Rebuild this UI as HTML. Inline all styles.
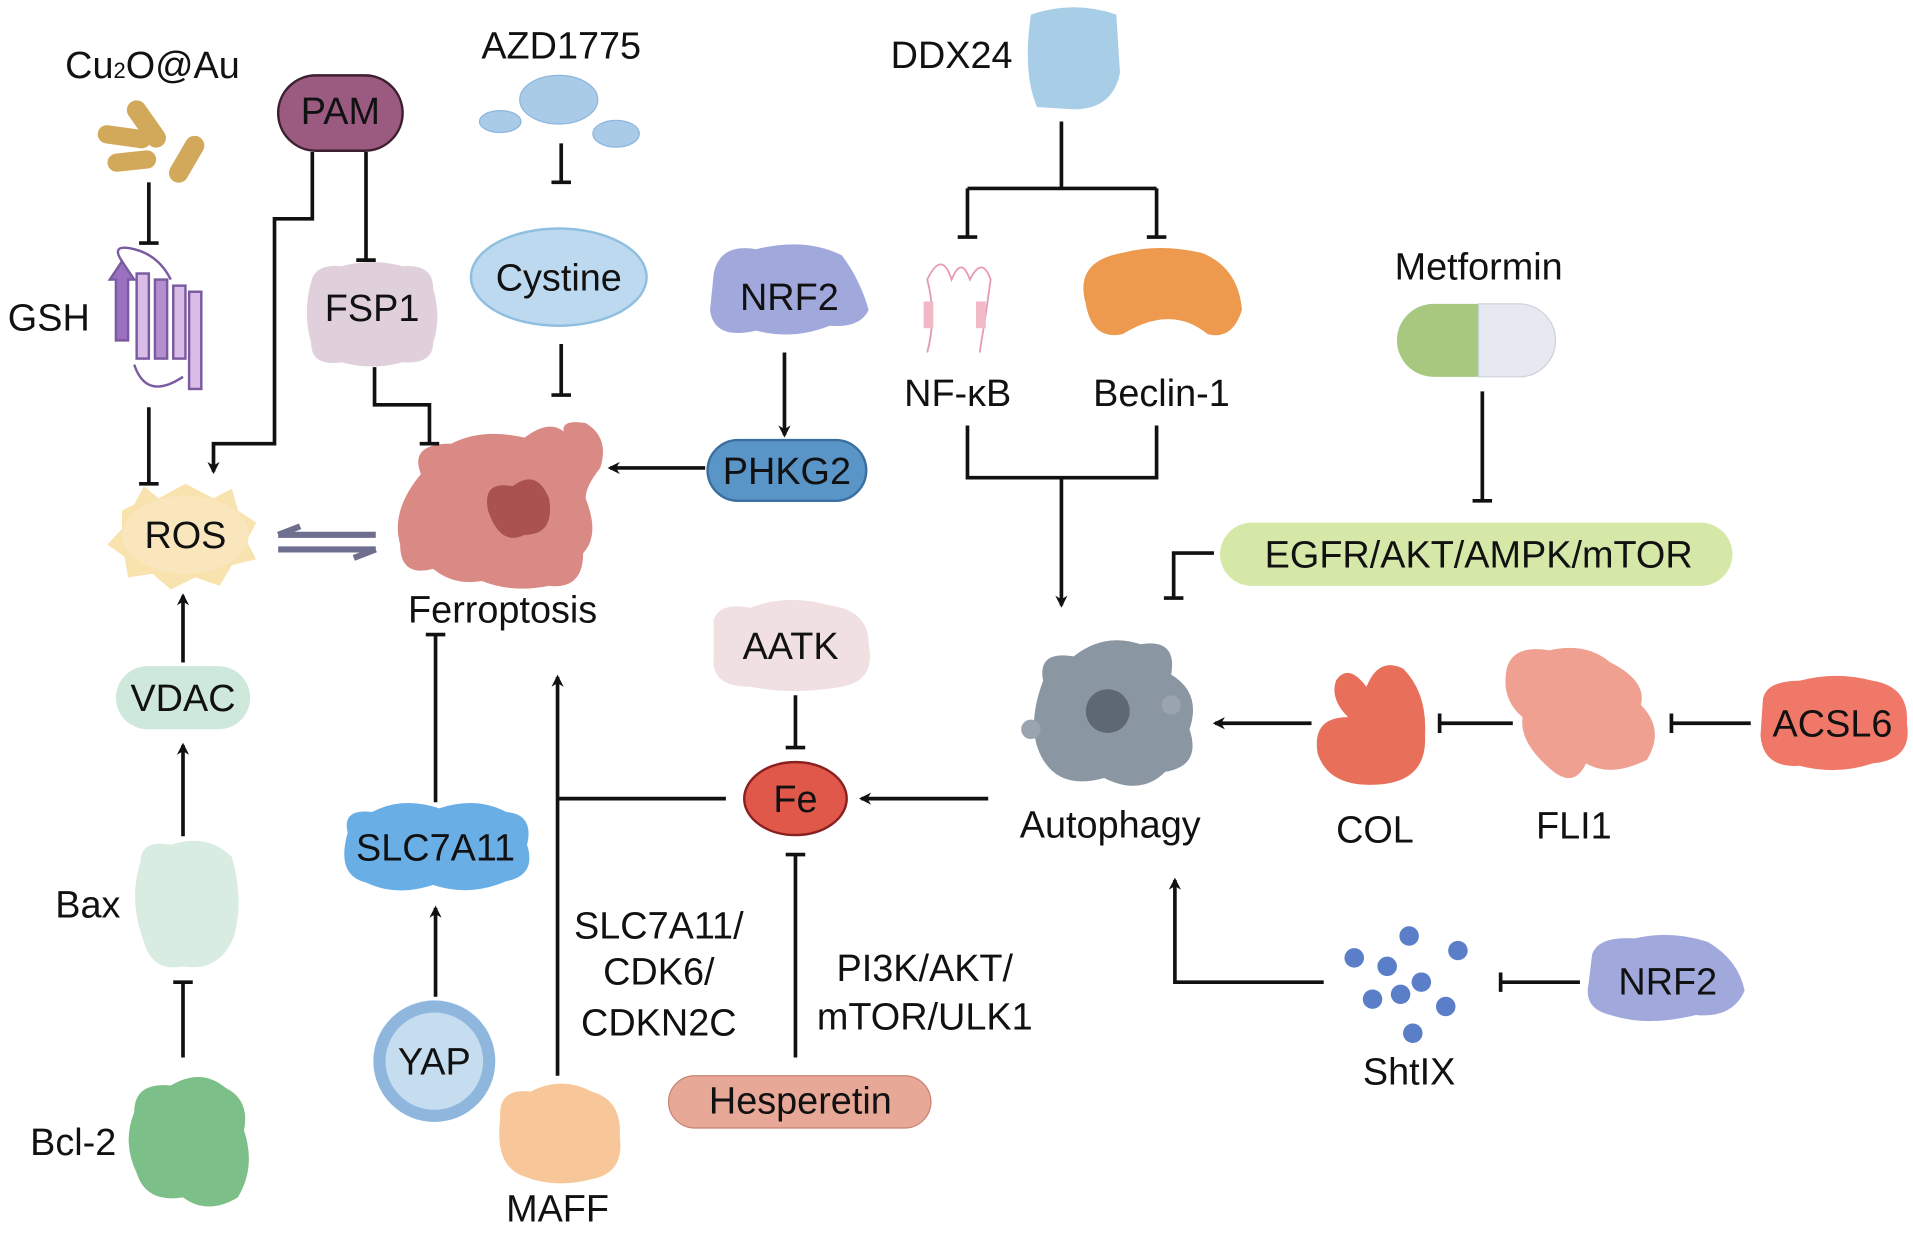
<!DOCTYPE html>
<html><head><meta charset="utf-8"><style>
html,body{margin:0;padding:0;background:#fff;overflow:hidden}
svg{display:block}
text{font-family:"Liberation Sans",sans-serif;font-size:31px;fill:#111;text-anchor:middle}
.l{stroke:#111;stroke-width:3;fill:none}
</style></head><body>
<svg width="1913" height="1235" viewBox="0 0 1568 1016" preserveAspectRatio="none" xmlns="http://www.w3.org/2000/svg">
<defs>
<marker id="a" markerWidth="10" markerHeight="10" refX="8" refY="5" orient="auto" markerUnits="userSpaceOnUse"><path d="M0,0 L10,5 L0,10 L3,5Z" fill="#111"/></marker>
</defs>
<rect width="1568" height="1016" fill="#fff"/>

<!-- Cu2O@Au -->
<text x="125" y="64">Cu<tspan font-size="18">2</tspan>O@Au</text>
<g fill="#d2a95a">
<rect x="112" y="80" width="16" height="44" rx="8" transform="rotate(-35 120 102)"/>
<rect x="80" y="105" width="44" height="15" rx="7.5" transform="rotate(8 102 112)"/>
<rect x="145" y="110" width="16" height="42" rx="8" transform="rotate(30 153 131)"/>
<rect x="88" y="125" width="40" height="15" rx="7.5" transform="rotate(-6 108 132)"/>
</g>
<!-- PAM -->
<rect x="228" y="62" width="102" height="62" rx="31" fill="#9b5a80" stroke="#3d2030" stroke-width="2"/>
<text x="279" y="102">PAM</text>
<!-- AZD1775 -->
<text x="460" y="48">AZD1775</text>
<g fill="#a9cbe8" stroke="#8cb6dc"><ellipse cx="458" cy="82" rx="32" ry="20"/><ellipse cx="410" cy="100" rx="17" ry="9"/><ellipse cx="505" cy="110" rx="19" ry="11"/></g>
<!-- DDX24 -->
<text x="780" y="56">DDX24</text>
<path d="M845,12 Q880,0 915,12 L918,60 Q912,90 880,90 L850,88 Q838,60 845,12Z" fill="#a8cde6"/>
<!-- GSH -->
<text x="40" y="272">GSH</text>
<g fill="#c6a3d6" stroke="#7a5aa0" stroke-width="2">
<path d="M90,230 L100,215 L110,230 L105,230 L105,280 L95,280 L95,230Z" fill="#9a70bf"/>
<rect x="112" y="225" width="10" height="70" fill="#d9bde6"/>
<rect x="127" y="230" width="10" height="65" fill="#b58ed0"/>
<rect x="142" y="235" width="10" height="60" fill="#d9bde6"/>
<rect x="155" y="240" width="10" height="80" fill="#d9bde6"/>
<path d="M100,215 Q90,200 110,205 Q130,210 140,230 M110,300 Q120,330 150,310" fill="none"/>
</g>
<!-- FSP1 -->
<path d="M255,232 Q258,217 280,219 Q305,212 330,219 Q355,217 355,237 Q362,262 355,282 Q355,300 330,298 Q305,305 280,298 Q255,302 255,282 Q248,257 255,232Z" fill="#e0d0dc"/>
<text x="305" y="264">FSP1</text>
<!-- Cystine -->
<ellipse cx="458" cy="228" rx="72" ry="40" fill="#bcd9ef" stroke="#8fbfe0" stroke-width="2"/>
<text x="458" y="239">Cystine</text>
<!-- NRF2 -->
<path d="M585,225 Q590,200 620,205 Q660,195 690,210 Q705,230 712,255 Q705,270 680,268 Q650,280 620,272 Q585,280 582,255Z" fill="#a0a8dc"/>
<text x="647" y="255">NRF2</text>
<!-- NF-kB receptor -->
<g stroke="#e79ab3" stroke-width="1.5" fill="none"><path d="M760,290 Q768,260 760,230 Q772,205 780,230 Q788,210 795,230 Q805,210 812,230 Q808,260 803,290"/></g>
<rect x="757" y="248" width="8" height="22" fill="#f1b8c8"/><rect x="800" y="248" width="8" height="22" fill="#f1b8c8"/>
<text x="785" y="334">NF-κB</text>
<!-- Beclin -->
<path d="M890,250 Q880,215 920,208 Q950,200 985,208 Q1015,220 1018,255 Q1010,280 990,275 Q960,250 920,275 Q895,280 890,250Z" fill="#ee9a4e"/>
<text x="952" y="334">Beclin-1</text>
<!-- Metformin -->
<text x="1212" y="230">Metformin</text>
<path d="M1175,250 L1212,250 L1212,310 L1175,310 A30,30 0 0 1 1175,250Z" fill="#a8c880"/>
<path d="M1212,250 L1245,250 A30,30 0 0 1 1245,310 L1212,310Z" fill="#e6eaf0" stroke="#cdd3dc"/>
<!-- DDX24 connectors -->
<path class="l" d="M870,100 V155 M793,155 H948 M793,155 V195 M948,155 V195 M785,195 H801 M940,195 H956"/>
<path class="l" d="M793,350 V393 H948 V350" />
<path class="l" d="M870,393 V498" marker-end="url(#a)"/>
<path class="l" d="M1215,322 V412 M1207,412 H1223"/>
<!-- EGFR -->
<rect x="1000" y="430" width="420" height="52" rx="26" fill="#d6e8a8"/>
<text x="1212" y="467">EGFR/AKT/AMPK/mTOR</text>
<path class="l" d="M995,455 H962 V492 M954,492 H970"/>
<!-- PHKG2 -->
<rect x="580" y="362" width="130" height="50" rx="25" fill="#5a95c8" stroke="#3a6fa0" stroke-width="2"/>
<text x="645" y="398">PHKG2</text>
<path class="l" d="M643,290 V358" marker-end="url(#a)"/>
<path class="l" d="M578,385 H500" marker-end="url(#a)"/>
<!-- Ferroptosis cell -->
<path d="M345,390 Q335,365 370,365 Q395,352 430,360 Q450,345 462,355 Q460,345 480,348 Q500,360 492,385 Q480,400 480,410 Q492,440 478,455 Q478,485 450,482 Q420,488 395,478 Q372,482 355,468 Q328,475 328,448 Q320,420 345,390Z" fill="#d98a84"/>
<path d="M400,420 Q395,395 420,400 Q440,385 450,410 Q455,440 430,440 Q410,450 400,420Z" fill="#a9524e"/>
<circle cx="343" cy="412" r="7" fill="#d98a84"/><circle cx="350" cy="382" r="5" fill="#d98a84"/>
<text x="412" y="512">Ferroptosis</text>
<!-- left column connectors -->
<path class="l" d="M300,125 V214 M292,214 H308"/>
<path class="l" d="M256,125 V180 H225 V365 H175 V388" marker-end="url(#a)"/>
<path class="l" d="M307,302 V333 H352 V365 M344,365 H360"/>
<path class="l" d="M460,118 V150 M452,150 H468 M460,283 V325 M452,325 H468"/>
<path class="l" d="M122,150 V200 M114,200 H130 M122,335 V398 M114,398 H130"/>
<!-- ROS -->
<path d="M100,420 L110,415 L118,400 L130,410 L152,398 L175,410 L190,402 L195,420 L210,430 L202,445 L210,460 L190,465 L180,482 L160,475 L140,485 L125,472 L105,475 L102,458 L88,448 L100,435Z" fill="#f8e2ae"/>
<ellipse cx="152" cy="440" rx="52" ry="32" fill="#f9e6bd"/>
<text x="152" y="451">ROS</text>
<path d="M228,440 H308 M228,440 L246,433 M308,452 H228 M308,452 L290,459" stroke="#6e6e8e" stroke-width="5" fill="none"/>
<!-- VDAC -->
<rect x="95" y="548" width="110" height="52" rx="26" fill="#cfe8dc"/>
<text x="150" y="585">VDAC</text>
<path class="l" d="M150,545 V490" marker-end="url(#a)"/>
<!-- Bax -->
<path d="M115,710 Q115,690 140,695 Q170,685 190,705 Q200,740 192,770 Q180,800 150,795 Q125,800 118,775 Q105,740 115,710Z" fill="#d9ece1"/>
<text x="72" y="755">Bax</text>
<path class="l" d="M150,688 V613" marker-end="url(#a)"/>
<!-- Bcl-2 -->
<path d="M110,915 Q110,890 140,893 Q165,878 185,895 Q205,905 200,930 Q210,960 195,985 Q170,1000 150,985 Q120,990 112,965 Q100,940 110,915Z" fill="#7cbf88"/>
<text x="60" y="950">Bcl-2</text>
<path class="l" d="M150,870 V808 M142,808 H158"/>
<!-- SLC7A11 -->
<path d="M285,685 Q280,665 305,668 Q330,655 360,665 Q390,655 415,668 Q438,670 432,695 Q440,720 415,725 Q385,738 355,728 Q325,738 300,726 Q275,720 285,685Z" fill="#6aaee6"/>
<text x="357" y="708">SLC7A11</text>
<path class="l" d="M357,660 V522 M349,522 H365"/>
<!-- YAP -->
<circle cx="356" cy="873" r="50" fill="#8fb7de"/><circle cx="356" cy="873" r="40" fill="#c6dcef"/>
<text x="356" y="884">YAP</text>
<path class="l" d="M357,820 V747" marker-end="url(#a)"/>
<!-- MAFF -->
<path d="M410,920 Q408,895 435,898 Q460,885 485,898 Q510,905 508,935 Q512,965 485,970 Q455,978 430,968 Q405,960 410,920Z" fill="#f7c79a"/>
<text x="457" y="1005">MAFF</text>
<path class="l" d="M457,885 V557" marker-end="url(#a)"/>
<path class="l" d="M457,657 H595"/>
<text x="540" y="772">SLC7A11/</text><text x="540" y="810">CDK6/</text><text x="540" y="852">CDKN2C</text>
<!-- AATK -->
<path d="M585,510 Q590,495 615,500 Q645,488 680,498 Q712,502 712,530 Q718,560 690,565 Q650,572 615,565 Q582,565 585,540Z" fill="#f0e0e2"/>
<text x="648" y="542">AATK</text>
<path class="l" d="M652,572 V615 M644,615 H660"/>
<!-- Fe -->
<ellipse cx="652" cy="657" rx="42" ry="30" fill="#e0584a" stroke="#8a2020" stroke-width="2"/>
<text x="652" y="668">Fe</text>
<path class="l" d="M810,657 H706" marker-end="url(#a)"/>
<!-- Hesperetin -->
<rect x="548" y="885" width="215" height="43" rx="21.5" fill="#e8a898" stroke="#c88070"/>
<text x="656" y="916">Hesperetin</text>
<path class="l" d="M652,870 V703 M644,703 H660"/>
<text x="758" y="807">PI3K/AKT/</text><text x="758" y="847">mTOR/ULK1</text>
<!-- Autophagy -->
<path d="M855,560 Q850,535 880,540 Q905,520 935,530 Q965,525 960,555 Q985,570 975,600 Q985,630 955,635 Q935,655 905,640 Q870,650 855,625 Q840,600 855,560Z" fill="#8a96a2"/>
<circle cx="908" cy="585" r="18" fill="#5e6874"/>
<circle cx="960" cy="580" r="8" fill="#9aa4ae"/><circle cx="845" cy="600" r="8" fill="#9aa4ae"/>
<text x="910" y="689">Autophagy</text>
<!-- COL -->
<path d="M1095,560 Q1105,545 1120,565 Q1130,540 1150,550 Q1170,570 1168,605 Q1170,640 1135,645 Q1090,650 1080,620 Q1075,590 1105,590 Q1090,575 1095,560Z" fill="#e8705a"/>
<text x="1127" y="693">COL</text>
<path class="l" d="M1075,595 H996" marker-end="url(#a)"/>
<!-- FLI1 -->
<path d="M1235,550 Q1240,530 1270,535 Q1300,528 1320,545 Q1350,560 1345,580 Q1365,600 1350,625 Q1320,640 1300,628 Q1290,650 1270,632 Q1245,610 1248,590 Q1230,575 1235,550Z" fill="#f0a090"/>
<text x="1290" y="690">FLI1</text>
<path class="l" d="M1240,595 H1180 M1180,587 V603"/>
<!-- ACSL6 -->
<path d="M1445,575 Q1448,560 1475,560 Q1505,552 1535,560 Q1565,565 1563,595 Q1568,625 1535,628 Q1505,638 1475,630 Q1445,632 1443,605Z" fill="#f07868"/>
<text x="1502" y="606">ACSL6</text>
<path class="l" d="M1435,595 H1370 M1370,587 V603"/>
<!-- ShtIX -->
<g fill="#5a7ec8"><circle cx="1155" cy="770" r="8"/><circle cx="1110" cy="788" r="8"/><circle cx="1137" cy="795" r="8"/><circle cx="1195" cy="782" r="8"/><circle cx="1165" cy="808" r="8"/><circle cx="1125" cy="822" r="8"/><circle cx="1185" cy="828" r="8"/><circle cx="1148" cy="818" r="8"/><circle cx="1158" cy="850" r="8"/></g>
<text x="1155" y="892">ShtIX</text>
<path class="l" d="M1085,808 H963 V724" marker-end="url(#a)"/>
<!-- NRF2 right -->
<path d="M1305,785 Q1310,770 1340,772 Q1370,765 1400,775 Q1425,790 1430,815 Q1420,838 1390,835 Q1350,845 1320,835 Q1298,830 1302,810Z" fill="#a0a8dc"/>
<text x="1367" y="818">NRF2</text>
<path class="l" d="M1295,808 H1230 M1230,800 V816"/>
</svg>
</body></html>
